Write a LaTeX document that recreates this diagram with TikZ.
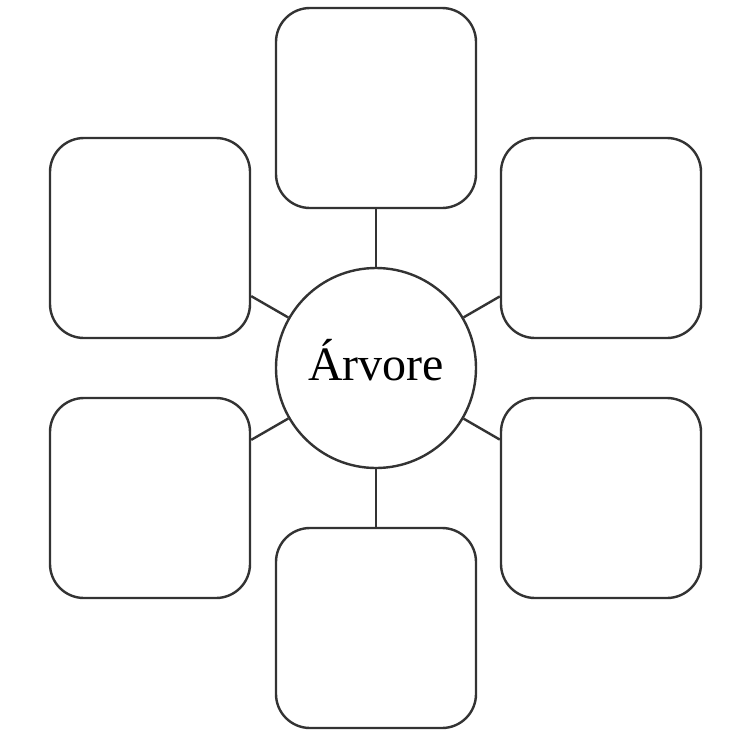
\documentclass[tikz,border=0pt]{standalone}
\usepackage{fontspec}
\setmainfont{Liberation Serif}
\usepackage{tikz}
\usetikzlibrary{positioning}

\begin{document}
\begin{tikzpicture}[
  x=0.5pt, y=-0.5pt,
  card/.style={draw=black!80, line width=1.2pt, rounded corners=17pt, minimum size=100pt, inner sep=0pt},
  hub/.style={draw=black!80, line width=1.2pt, circle, minimum size=100pt, inner sep=0pt, text depth=8pt, font=\fontsize{24}{28}\selectfont},
  link/.style={draw=black!80, line width=1.2pt}
]
  \useasboundingbox (0,0) rectangle (734,729);
  \node[hub] (arvore) at (376,368) {Árvore};
  \node[card] (top) at (376,108) {};
  \node[card] (topleft) at (150,238) {};
  \node[card] (topright) at (601,238) {};
  \node[card] (botleft) at (150,498) {};
  \node[card] (botright) at (601,498) {};
  \node[card] (bot) at (376,628) {};
  \draw[link] (arvore) -- (top);
  \draw[link] (arvore) -- (topleft);
  \draw[link] (arvore) -- (topright);
  \draw[link] (arvore) -- (botleft);
  \draw[link] (arvore) -- (botright);
  \draw[link] (arvore) -- (bot);
\end{tikzpicture}
\end{document}
